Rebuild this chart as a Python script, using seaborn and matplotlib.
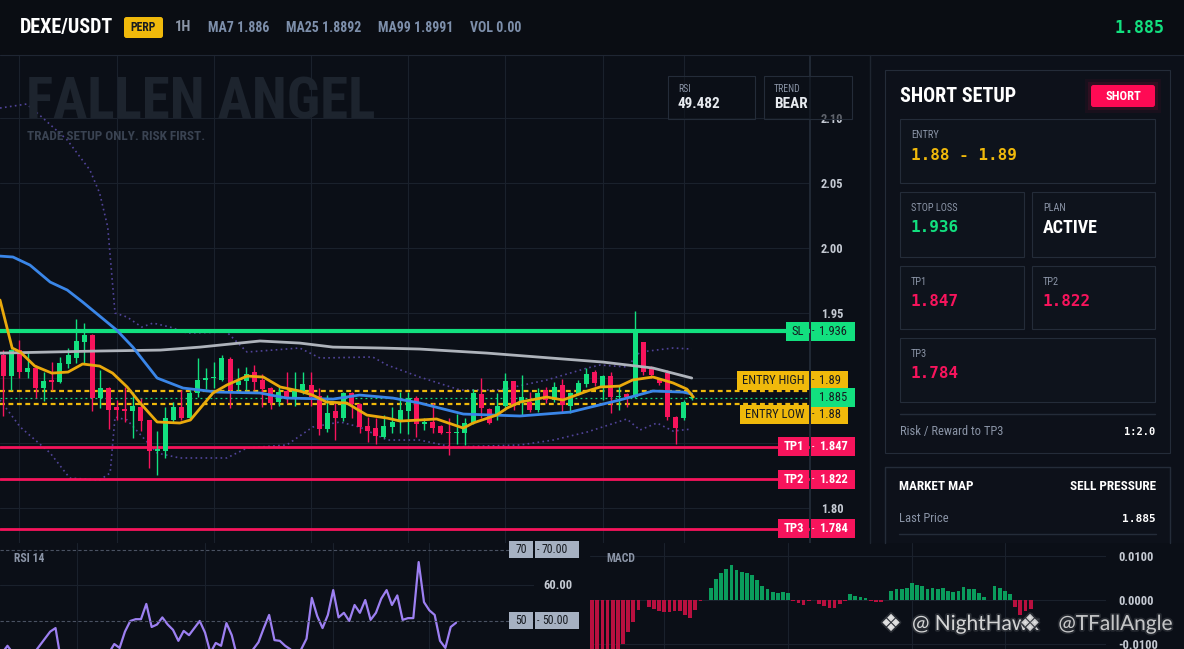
import numpy as np
import pandas as pd
import matplotlib
matplotlib.use("Agg")
import matplotlib.pyplot as plt
import matplotlib.patheffects as pe
from matplotlib.patches import Rectangle, FancyBboxPatch
from matplotlib import font_manager
import seaborn as sns

# ---- data ----
c_open = [1.918, 1.9015, 1.9215, 1.9046, 1.9077, 1.8923, 1.8985, 1.897, 1.9108, 1.9154,
          1.9277, 1.933, 1.8846, 1.8923, 1.8777, 1.876, 1.8746, 1.8777, 1.8677, 1.8438,
          1.8438, 1.8677, 1.8777, 1.8692, 1.8885, 1.8985, 1.900, 1.8985, 1.9146, 1.8946,
          1.8977, 1.9046, 1.8985, 1.8923, 1.8815, 1.890, 1.8854, 1.8892, 1.8946, 1.8862,
          1.8608, 1.8746, 1.8692, 1.8885, 1.880, 1.8631, 1.8615, 1.8546, 1.8623, 1.8662,
          1.8746, 1.8846, 1.8646, 1.8662, 1.8631, 1.8585, 1.8577, 1.8577, 1.8654, 1.8877,
          1.8762, 1.8715, 1.8785, 1.8977, 1.8808, 1.8815, 1.8754, 1.8908, 1.8831, 1.8946,
          1.8785, 1.8877, 1.8954, 1.9046, 1.893, 1.9015, 1.8854, 1.8877, 1.8854, 1.9277,
          1.9085, 1.8992, 1.9038, 1.870, 1.8692, 1.8846]
c_high = [1.9215, 1.922, 1.929, 1.919, 1.910, 1.9046, 1.912, 1.916, 1.923, 1.9454,
          1.942, 1.934, 1.906, 1.893, 1.883, 1.893, 1.889, 1.8846, 1.868, 1.859,
          1.8777, 1.8815, 1.891, 1.891, 1.9154, 1.9077, 1.912, 1.9177, 1.916, 1.9077,
          1.9085, 1.910, 1.903, 1.893, 1.893, 1.905, 1.9046, 1.9046, 1.9046, 1.892,
          1.887, 1.881, 1.8892, 1.889, 1.881, 1.870, 1.869, 1.8715, 1.8777, 1.889,
          1.889, 1.886, 1.869, 1.881, 1.864, 1.869, 1.8723, 1.869, 1.8915, 1.900,
          1.877, 1.8885, 1.9038, 1.898, 1.902, 1.889, 1.8923, 1.893, 1.897, 1.899,
          1.889, 1.8985, 1.9077, 1.906, 1.9023, 1.905, 1.895, 1.8885, 1.9515, 1.928,
          1.9092, 1.900, 1.9062, 1.8708, 1.883, 1.886]
c_low = [1.871, 1.891, 1.900, 1.900, 1.885, 1.882, 1.891, 1.896, 1.9077, 1.9115,
         1.9115, 1.8746, 1.877, 1.8608, 1.868, 1.866, 1.854, 1.859, 1.831, 1.8254,
         1.8385, 1.866, 1.8677, 1.8677, 1.8854, 1.8915, 1.892, 1.898, 1.877, 1.890,
         1.891, 1.891, 1.8777, 1.876, 1.8785, 1.881, 1.8785, 1.888, 1.8785, 1.856,
         1.8585, 1.852, 1.8669, 1.8692, 1.8577, 1.8508, 1.849, 1.8538, 1.8577, 1.858,
         1.857, 1.8546, 1.860, 1.8577, 1.8569, 1.841, 1.8492, 1.8485, 1.865, 1.8692,
         1.8646, 1.8677, 1.8754, 1.8754, 1.8715, 1.8738, 1.874, 1.8808, 1.8815, 1.874,
         1.873, 1.887, 1.893, 1.8938, 1.883, 1.873, 1.8754, 1.8777, 1.885, 1.902,
         1.900, 1.895, 1.868, 1.8492, 1.868, 1.883]
c_close = [1.9015, 1.9215, 1.9046, 1.9077, 1.8923, 1.8977, 1.897, 1.9115, 1.9177, 1.9285,
           1.933, 1.8846, 1.8923, 1.8754, 1.8754, 1.8746, 1.8785, 1.8669, 1.8438, 1.8454,
           1.8692, 1.8777, 1.8692, 1.8885, 1.8985, 1.900, 1.9008, 1.9154, 1.8908, 1.8977,
           1.9031, 1.897, 1.8915, 1.8808, 1.8892, 1.8854, 1.890, 1.8954, 1.8854, 1.8608,
           1.873, 1.8692, 1.8885, 1.880, 1.8623, 1.8592, 1.8554, 1.8631, 1.8662, 1.8754,
           1.8846, 1.8646, 1.8662, 1.8615, 1.8577, 1.8577, 1.8585, 1.8654, 1.8885, 1.8769,
           1.8654, 1.8785, 1.8977, 1.8785, 1.8854, 1.8754, 1.8885, 1.8831, 1.893, 1.8792,
           1.8885, 1.8962, 1.9031, 1.8962, 1.9015, 1.8854, 1.8862, 1.8854, 1.9377, 1.9046,
           1.9023, 1.8962, 1.870, 1.8615, 1.8815, 1.885]

ma7_i = [-0.4, 1.1, 2.1, 3.9, 6.0, 8.0, 9.8, 11.9, 13.5, 15.3, 16.9, 19.0, 21.8, 23.1,
         25.9, 27.6, 30.1, 32.1, 34.2, 36.6, 38.2, 39.9, 42.4, 44.9, 47.4, 49.0, 51.4,
         53.5, 56.8, 58.0, 60.9, 62.2, 63.8, 67.1, 69.1, 72.1, 73.7, 76.1, 77.7, 80.2,
         82.7, 84.4, 85.2]
ma7_p = [1.960, 1.9231, 1.920, 1.9092, 1.9038, 1.9046, 1.9108, 1.9092, 1.9038, 1.8931,
         1.8808, 1.8662, 1.8654, 1.8677, 1.8885, 1.8946, 1.9015, 1.9008, 1.8931, 1.890,
         1.8869, 1.8815, 1.8808, 1.8715, 1.8692, 1.8669, 1.8677, 1.8685, 1.8615, 1.8654,
         1.8715, 1.8769, 1.8815, 1.8854, 1.8831, 1.890, 1.8931, 1.8938, 1.8985, 1.9008,
         1.8962, 1.8915, 1.8854]
ma25_i = [-0.4, 1.2, 3.3, 5.8, 7.9, 9.8, 14.0, 16.0, 19.0, 22.2, 26.4, 31.7, 35.0, 40.7,
          44.0, 48.1, 51.4, 56.8, 63.8, 70.0, 76.1, 80.2, 83.9, 85.0]
ma25_p = [1.9938, 1.9931, 1.9869, 1.9738, 1.9677, 1.9585, 1.9369, 1.9238, 1.900, 1.8923,
          1.8892, 1.8885, 1.8846, 1.8838, 1.8869, 1.8846, 1.8808, 1.8723, 1.8708, 1.8738,
          1.8831, 1.890, 1.8892, 1.8877]
ma99_i = [-0.4, 11.9, 19.4, 24.3, 31.7, 36.6, 40.7, 46.5, 51.4, 59.7, 74.0, 80.2, 85.0]
ma99_p = [1.9192, 1.9208, 1.9215, 1.9238, 1.9285, 1.9269, 1.9238, 1.9231, 1.9223, 1.9192,
          1.9123, 1.9077, 1.900]
bb_up_i = [-0.4, 2.9, 4.9, 7.9, 10.7, 11.9, 12.9, 13.8, 15.3, 17.1, 18.5, 20.6, 22.7, 27.6,
           30.1, 36.6, 39.1, 45.6, 47.4, 51.4, 56.4, 61.3, 67.1, 72.1, 73.7, 77.0, 78.6,
           82.7, 85.0]
bb_up_p = [2.1077, 2.1108, 2.100, 2.0831, 2.060, 2.0423, 2.0162, 1.950, 1.9469, 1.9392,
           1.9423, 1.9392, 1.9346, 1.9354, 1.920, 1.9231, 1.9154, 1.9162, 1.910, 1.9008,
           1.8908, 1.8908, 1.8985, 1.9077, 1.910, 1.9085, 1.920, 1.9231, 1.9223]
bb_lo_i = [-0.4, 2.1, 5.8, 8.2, 11.9, 13.2, 13.8, 15.3, 19.0, 21.8, 27.6, 30.1, 35.0, 38.2,
           41.6, 44.0, 47.4, 51.4, 55.5, 63.8, 67.9, 72.1, 77.0, 78.6, 80.7, 82.7, 85.0]
bb_lo_p = [1.8831, 1.8623, 1.8423, 1.8231, 1.8215, 1.827, 1.870, 1.8677, 1.8423, 1.8385,
           1.8385, 1.8462, 1.8485, 1.8623, 1.8662, 1.8623, 1.8523, 1.8523, 1.8469, 1.8485,
           1.8523, 1.8585, 1.8685, 1.860, 1.8654, 1.8592, 1.8608]

rsi = [41, 43, 41, 39, 38, 39, 41, 43, 45, 47,
       48, 39, 37, 36, 38, 37, 35, 38, 36, 39,
       41, 43.5, 42.4, 47, 50, 50.5, 50.5, 54.8, 48.3, 49,
       51, 49, 47.5, 44.4, 47.2, 46, 48, 50, 46.7, 41,
       43.8, 43, 49.4, 46, 40, 38, 39, 42, 44, 48,
       51.7, 44.6, 44.4, 43, 42, 40, 42, 45, 56.5, 51.4,
       48, 51.7, 58.7, 51, 52.3, 50, 54.5, 52.3, 55.9, 50.3,
       52.3, 56.3, 58.7, 54.5, 57.2, 50.3, 50.8, 50.8, 66.6, 55.3,
       53, 51.7, 44.4, 42.4, 48.3, 49.5]

macd_hist = [-0.0160, -0.0150, -0.0140, -0.0130, -0.0120, -0.0115, -0.0099, -0.0073, -0.0050, -0.0022,
             0.0001, -0.0015, -0.0020, -0.0026, -0.0028, -0.0028, -0.0024, -0.0026, -0.0034, -0.0040,
             -0.0022, -0.0002, 0.0001, 0.0028, 0.0047, 0.0062, 0.0070, 0.0079, 0.0068, 0.0064,
             0.0062, 0.0057, 0.0045, 0.0032, 0.0026, 0.0019, 0.0017, 0.0019, 0.0017, -0.0003,
             -0.0007, -0.0011, -0.0002, -0.0001, -0.0008, -0.0013, -0.0019, -0.0018, -0.0010, -0.0003,
             0.0013, 0.0010, 0.0007, 0.0004, -0.0003, -0.0004, -0.0004, 0.0001, 0.0021, 0.0025,
             0.0025, 0.0027, 0.0038, 0.0034, 0.0032, 0.0026, 0.0027, 0.0026, 0.0027, 0.0021,
             0.0019, 0.0021, 0.0030, 0.0025, 0.0025, 0.0017, 0.0006, 0.0001, 0.0032, 0.0028,
             0.0021, 0.0013, -0.0015, -0.0035, -0.0024, -0.0020]

level_names = ["SL", "ENTRY HIGH", "ENTRY LOW", "TP1", "TP2", "TP3"]
level_prices = [1.936, 1.89, 1.88, 1.847, 1.822, 1.784]
last_price = 1.885
price_ticks = [1.80, 1.85, 1.90, 1.95, 2.00, 2.05, 2.10]
hidden_ticks = [1.85, 1.90]  # covered by the level tags on the scale
header_stats = ["MA7 1.886", "MA25 1.8892", "MA99 1.8991", "VOL 0.00"]

# ---- style ----
BG = "#0b0f17"
TOPBG = "#0a0d13"
PANEL = "#0c1019"
BOX = "#0e131c"
EDGE = "#242c39"
GRID = "#1a212c"
GREEN = "#12e07f"
RED = "#f7145c"
YELLOW = "#f0b90b"
BLUE = "#3a86e8"
GREY = "#aeb3bb"
ORANGE = "#e9a90c"
BAND = "#51449a"
PURPLE = "#9d80f2"
MGREEN = "#0a9c5c"
MRED = "#b8103f"
LABEL = "#8a94a6"
DARK = "#161a20"

sns.set_theme(style="darkgrid", rc={"axes.facecolor": BG, "figure.facecolor": BG,
                                     "grid.color": GRID, "axes.edgecolor": EDGE})
names = {f.name for f in font_manager.fontManager.ttflist}
COND = "Roboto"
for cand in ["Roboto Condensed", "Liberation Sans Narrow"]:
    if cand in names:
        COND = cand
        break
MONO = "DejaVu Sans Mono"
plt.rcParams["font.family"] = [COND, "DejaVu Sans"]

W, H = 1184, 649
fig = plt.figure(figsize=(W / 100, H / 100), dpi=100)


def px_axes(x, y, w, h, **kw):
    return fig.add_axes([x / W, 1 - (y + h) / H, w / W, h / H], **kw)


XLIM = (-0.4, 99.6)

# ---- main price chart ----
Y_TOP, Y_BOT = 2.1485, 1.7731
ax = px_axes(0, 55, 810, 488)
idx = np.arange(len(c_open))
o = np.array(c_open)
c = np.array(c_close)
cols = np.where(c >= o, GREEN, RED)
ax.vlines(idx, c_low, c_high, colors=cols, lw=1, zorder=4)
ax.bar(idx, np.maximum(np.abs(c - o), 0.0008), bottom=np.minimum(o, c), width=0.62,
       color=cols, zorder=5, linewidth=0)

ax.plot(bb_up_i, bb_up_p, ls=(0, (1, 2)), lw=1.2, color=BAND, zorder=3)
ax.plot(bb_lo_i, bb_lo_p, ls=(0, (1, 2)), lw=1.2, color=BAND, zorder=3)
sns.lineplot(x=ma99_i, y=ma99_p, ax=ax, color=GREY, lw=2, sort=False, estimator=None, zorder=6)
sns.lineplot(x=ma25_i, y=ma25_p, ax=ax, color=BLUE, lw=2, sort=False, estimator=None, zorder=6)
sns.lineplot(x=ma7_i, y=ma7_p, ax=ax, color=ORANGE, lw=2, sort=False, estimator=None, zorder=6)

for name, p in zip(level_names, level_prices):
    if name == "SL":
        ax.axhline(p, color=GREEN, lw=3, zorder=3)
    elif name.startswith("TP"):
        ax.axhline(p, color=RED, lw=2, zorder=3)
    else:
        ax.axhline(p, color=YELLOW, lw=1.6, ls=(0, (2.2, 1.6)), zorder=3)
ax.axhline(last_price, color=GREEN, lw=0.9, ls=(0, (1.5, 2.5)), zorder=3)

ax.set_xlim(*XLIM)
ax.set_ylim(Y_BOT, Y_TOP)
ax.set_xticks([2, 14, 26, 38, 50, 62, 74, 84])
ax.set_xticklabels([])
ax.yaxis.tick_right()
ax.set_yticks(price_ticks)
ax.set_yticklabels(["" if t in hidden_ticks else f"{t:.2f}" for t in price_ticks],
                   color="#c5cad3", fontsize=9, fontweight="bold")
ax.tick_params(length=0)
ax.tick_params(axis="y", pad=8)
ax.set_xlabel("")
ax.set_ylabel("")
ax.grid(True, color=GRID, lw=0.8)
for s in ["top", "left", "bottom"]:
    ax.spines[s].set_visible(False)
ax.spines["right"].set_color(EDGE)


def price_px(p):
    return 55 + (Y_TOP - p) / (Y_TOP - Y_BOT) * 488


# ---- RSI panel ----
R_TOP, R_BOT = 71.97, 42.1
rx = px_axes(0, 543, 534, 106)
sns.lineplot(x=np.arange(len(rsi)), y=rsi, ax=rx, color=PURPLE, lw=1.6)
rx.axhline(70, color="#4a5262", lw=0.8, ls=(0, (3, 2)))
rx.axhline(50, color="#4a5262", lw=0.8, ls=(0, (3, 2)))
rx.set_xlim(*XLIM)
rx.set_ylim(R_BOT, R_TOP)
rx.set_xticks([14, 38, 62, 80])
rx.set_yticks([60])
rx.set_xticklabels([])
rx.set_yticklabels([])
rx.tick_params(length=0)
rx.set_xlabel("")
rx.set_ylabel("")
rx.grid(True, color=GRID, lw=0.8)
for s in rx.spines.values():
    s.set_visible(False)


def rsi_px(v):
    return 543 + (R_TOP - v) / (R_TOP - R_BOT) * 106


# ---- MACD panel ----
M_TOP, M_BOT = 0.01295, -0.01114
mx = px_axes(590, 543, 516, 106)
mdf = pd.DataFrame({"i": np.arange(len(macd_hist)), "v": macd_hist})
mdf["side"] = np.where(mdf["v"] >= 0, "up", "down")
sns.barplot(data=mdf, x="i", y="v", hue="side", palette={"up": MGREEN, "down": MRED},
            native_scale=True, dodge=False, width=0.72, errorbar=None, legend=False,
            saturation=1, linewidth=0, ax=mx)
mx.set_xlim(*XLIM)
mx.set_ylim(M_BOT, M_TOP)
mx.set_xticks([14, 38, 62, 80])
mx.set_xticklabels([])
mx.yaxis.tick_right()
mx.set_yticks([-0.01, 0.0, 0.01])
mx.set_yticklabels(["-0.0100", "0.0000", "0.0100"], color="#c5cad3", fontsize=9,
                   fontweight="bold")
mx.tick_params(length=0)
mx.tick_params(axis="y", pad=9)
mx.set_xlabel("")
mx.set_ylabel("")
mx.grid(True, color=GRID, lw=0.8)
for s in mx.spines.values():
    s.set_visible(False)

# ---- overlay: header, tags, side panel ----
ov = fig.add_axes([0, 0, 1, 1], zorder=20)
ov.set_xlim(0, W)
ov.set_ylim(H, 0)
ov.axis("off")
ov.patch.set_alpha(0)


def rect(x0, y0, x1, y1, fc=BOX, ec="none", lw=0.8, z=1, alpha=1.0):
    ov.add_patch(Rectangle((x0, y0), x1 - x0, y1 - y0, facecolor=fc, edgecolor=ec,
                           linewidth=lw, zorder=z, alpha=alpha))


def rbox(x0, y0, x1, y1, fc, z=4, r=2.5):
    ov.add_patch(FancyBboxPatch((x0 + r, y0 + r), x1 - x0 - 2 * r, y1 - y0 - 2 * r,
                                boxstyle=f"round,pad={r}", facecolor=fc, edgecolor="none",
                                zorder=z, mutation_aspect=1))


def txt(x, y, s, size=8, color="white", ha="left", weight="normal", family=None, z=5, **kw):
    kw2 = dict(fontsize=size, color=color, ha=ha, va="center", fontweight=weight, zorder=z)
    if family:
        kw2["family"] = family
    kw2.update(kw)
    ov.text(x, y, s, **kw2)


# header bar
rect(0, 0, W, 55, fc=TOPBG)
ov.plot([0, W], [55, 55], color="#1f2633", lw=0.8, zorder=2)
txt(20, 27, "DEXE/USDT", 14.5, "white", weight="bold")
rbox(124, 17, 163, 38, YELLOW)
txt(143.5, 27.5, "PERP", 8.5, DARK, ha="center", weight="bold")
txt(175, 27, "1H", 10.5, "#8b95a7", weight="bold")
for x, s in zip([208, 286, 378, 470], header_stats):
    txt(x, 27.5, s, 10, "#7d8fab", weight="bold")
txt(1164, 28, f"{last_price:.3f}", 12, GREEN, ha="right", weight="bold", family=MONO)

# chart watermark
txt(26, 103, "FALLEN ANGEL", 41, "#1d242e", weight="bold", z=0)
txt(27, 137, "TRADE SETUP ONLY. RISK FIRST.", 9.5, "#3a4352", weight="bold", z=0)

# RSI / TREND mini boxes (see-through)
for x0, x1, head, val in [(668, 755, "RSI", f"{49.482:.3f}"), (764, 852, "TREND", "BEAR")]:
    rect(x0, 76, x1, 119, fc=BG, ec="none", alpha=0.55, z=1)
    rect(x0, 76, x1, 119, fc="none", ec=EDGE, z=2)
    txt(x0 + 10, 89, head, 7, LABEL)
    txt(x0 + 10, 104, val, 11, "#e8ebf0", weight="bold")

# level tags on the price scale
tag_shift = [0, -11, 10, 0, 0, 0]
tag_left = [786, 737, 740, 778, 778, 778]
tag_right = [855, 848, 848, 855, 855, 855]
for name, p, sh, xl, xr in zip(level_names, level_prices, tag_shift, tag_left, tag_right):
    yc = price_px(p) + sh
    if name == "SL":
        fc, tc = GREEN, DARK
    elif name.startswith("TP"):
        fc, tc = RED, "white"
    else:
        fc, tc = YELLOW, DARK
    rect(xl, yc - 9.5, 809, yc + 9.5, fc=fc)
    rect(811, yc - 9.5, xr, yc + 9.5, fc=fc)
    w = "bold" if name.startswith("TP") else "normal"
    txt((xl + 809) / 2, yc, name, 9, tc, ha="center", weight=w)
    txt(812, yc, "-", 7, tc)
    txt(819, yc, f"{p:g}", 9, tc, weight=w)
yc = price_px(last_price)
rect(811, yc - 9.5, 855, yc + 9.5, fc=GREEN)
txt(819, yc, f"{last_price:.3f}", 9, DARK)

# right side panel
rect(870, 55, W, 543, fc=PANEL)
ov.plot([870, 870], [55, 543], color="#1e2530", lw=1, zorder=2)
rect(885, 70, 1170, 453, fc="#0d111a", ec=EDGE, z=2)
txt(900, 96, "SHORT SETUP", 14.5, "white", weight="bold", z=4)
for pad, a in [(6, 0.05), (3, 0.1)]:
    rect(1091 - pad, 85 - pad, 1155 + pad, 107 + pad, fc="#ff0a54", alpha=a, z=3)
rbox(1091, 85, 1155, 107, "#ff0a54", z=4)
txt(1123, 96, "SHORT", 9, "white", ha="center", weight="bold", z=5)

cards = [(900, 119, 1155, 183, "ENTRY", "1.88 - 1.89", YELLOW),
         (900, 192, 1024, 257, "STOP LOSS", f"{level_prices[0]:.3f}", GREEN),
         (1032, 192, 1155, 257, "PLAN", "ACTIVE", "white"),
         (900, 266, 1024, 329, "TP1", f"{level_prices[3]:.3f}", RED),
         (1032, 266, 1155, 329, "TP2", f"{level_prices[4]:.3f}", RED),
         (900, 338, 1155, 402, "TP3", f"{level_prices[5]:.3f}", RED)]
for x0, y0, x1, y1, head, val, col in cards:
    rect(x0, y0, x1, y1, fc=BOX, ec=EDGE, z=3)
    txt(x0 + 11, y0 + 16, head, 7.5, LABEL, z=4)
    if val == "ACTIVE":
        txt(x0 + 11, y0 + 36, val, 13, col, weight="bold", z=4)
    else:
        txt(x0 + 11, y0 + 36, val, 11.5, col, weight="bold", family=MONO, z=4)
ov.plot([900, 1155], [414, 414], color=EDGE, lw=1, zorder=4)
txt(900, 432, "Risk / Reward to TP3", 9, LABEL, z=4)
txt(1155, 432, "1:2.0", 7.5, "white", ha="right", weight="bold", family=MONO, z=4)

rect(885, 467, 1170, 543, fc="#0d111a", ec="none", z=2)
ov.plot([885, 885, 1170, 1170], [543, 467, 467, 543], color=EDGE, lw=1, zorder=3)
txt(899, 487, "MARKET MAP", 9.5, "white", weight="bold", z=4)
txt(1156, 487, "SELL PRESSURE", 9.5, "white", ha="right", weight="bold", z=4)
txt(899, 519, "Last Price", 9, LABEL, z=4)
txt(1156, 519, f"{last_price:.3f}", 8, "white", ha="right", weight="bold", family=MONO, z=4)
ov.plot([899, 1156], [534, 534], color=EDGE, lw=1, zorder=4)

# RSI scale tags
txt(14, 558, "RSI 14", 8.5, LABEL, weight="bold")
for v in [70, 50]:
    yc = rsi_px(v)
    rect(509, yc - 8.5, 533, yc + 8.5, fc="#a6b1c2")
    rect(535, yc - 8.5, 579, yc + 8.5, fc="#a6b1c2")
    txt(521, yc, f"{v}", 8.5, DARK, ha="center")
    txt(537, yc, "-", 7, DARK)
    txt(542, yc, f"{v:.2f}", 8.5, DARK)
txt(543, rsi_px(60), "60.00", 9, "#c5cad3", weight="bold")
txt(606, 558, "MACD", 8.5, LABEL, weight="bold")

# share watermark
stroke = [pe.withStroke(linewidth=2.5, foreground="#2b2f36")]
txt(891, 624, "\u2756", 17, "#e6e6e6", ha="center", family="DejaVu Sans", z=8,
    path_effects=stroke, alpha=0.95)
txt(912, 624, "@ NightHawk", 15, "#e6e6e6", family="Lato", z=8,
    path_effects=stroke, alpha=0.9)
txt(1030, 624, "\u2756", 17, "#e6e6e6", ha="center", family="DejaVu Sans", z=8,
    path_effects=stroke, alpha=0.85)
txt(1173, 624, "@TFallAngle", 15, "#e6e6e6", ha="right", family="Lato", z=8,
    path_effects=stroke, alpha=0.8)

fig.savefig("out.png", dpi=100, facecolor=fig.get_facecolor())
